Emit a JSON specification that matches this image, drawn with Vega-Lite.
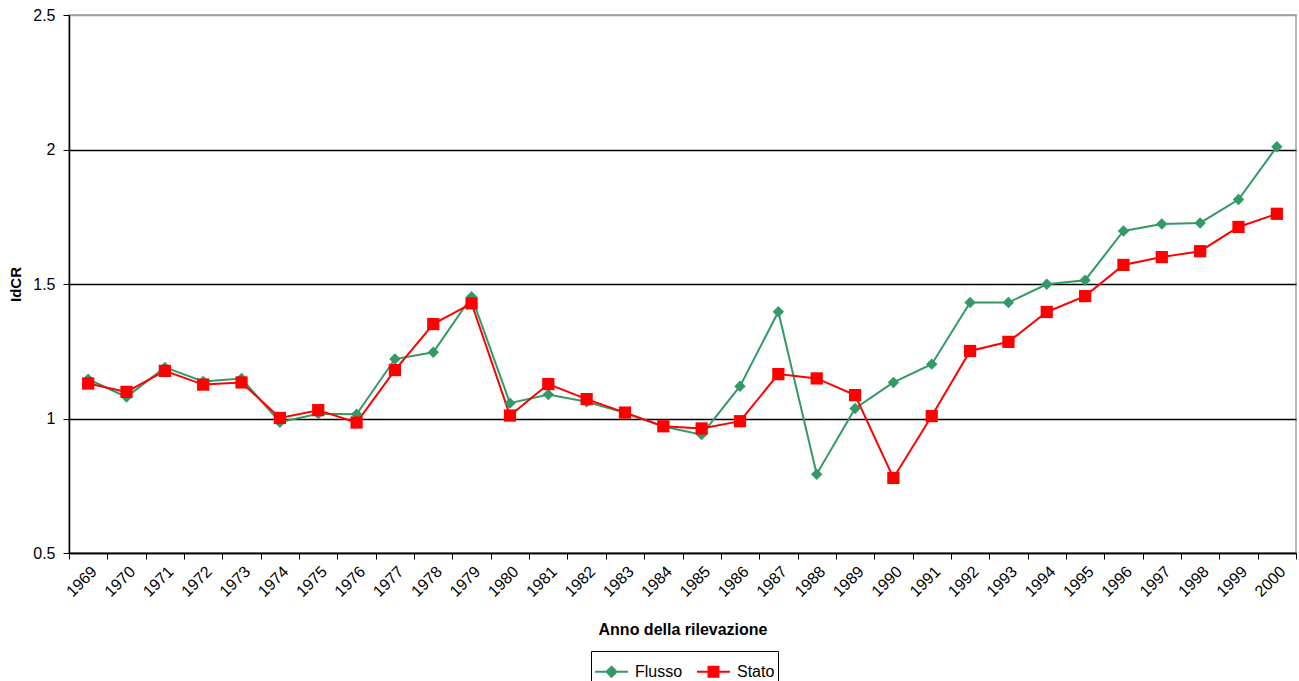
{
  "$schema": "https://vega.github.io/schema/vega-lite/v6.json",
  "width": 1227,
  "height": 538,
  "autosize": "none",
  "padding": {"left": 69, "top": 15, "right": 3, "bottom": 128},
  "background": "white",
  "config": {
    "font": "Liberation Sans",
    "view": {"stroke": "#a0a0a0", "strokeWidth": 1.5}
  },
  "data": {
    "values": [
      {"anno": "1969", "serie": "Flusso", "v": 1.146},
      {"anno": "1970", "serie": "Flusso", "v": 1.080},
      {"anno": "1971", "serie": "Flusso", "v": 1.190},
      {"anno": "1972", "serie": "Flusso", "v": 1.138},
      {"anno": "1973", "serie": "Flusso", "v": 1.149},
      {"anno": "1974", "serie": "Flusso", "v": 0.986},
      {"anno": "1975", "serie": "Flusso", "v": 1.018},
      {"anno": "1976", "serie": "Flusso", "v": 1.016},
      {"anno": "1977", "serie": "Flusso", "v": 1.221},
      {"anno": "1978", "serie": "Flusso", "v": 1.246},
      {"anno": "1979", "serie": "Flusso", "v": 1.453},
      {"anno": "1980", "serie": "Flusso", "v": 1.057},
      {"anno": "1981", "serie": "Flusso", "v": 1.089},
      {"anno": "1982", "serie": "Flusso", "v": 1.062},
      {"anno": "1983", "serie": "Flusso", "v": 1.021},
      {"anno": "1984", "serie": "Flusso", "v": 0.970},
      {"anno": "1985", "serie": "Flusso", "v": 0.940},
      {"anno": "1986", "serie": "Flusso", "v": 1.120},
      {"anno": "1987", "serie": "Flusso", "v": 1.397},
      {"anno": "1988", "serie": "Flusso", "v": 0.793},
      {"anno": "1989", "serie": "Flusso", "v": 1.037},
      {"anno": "1990", "serie": "Flusso", "v": 1.134},
      {"anno": "1991", "serie": "Flusso", "v": 1.202},
      {"anno": "1992", "serie": "Flusso", "v": 1.431},
      {"anno": "1993", "serie": "Flusso", "v": 1.431},
      {"anno": "1994", "serie": "Flusso", "v": 1.499},
      {"anno": "1995", "serie": "Flusso", "v": 1.514},
      {"anno": "1996", "serie": "Flusso", "v": 1.697},
      {"anno": "1997", "serie": "Flusso", "v": 1.723},
      {"anno": "1998", "serie": "Flusso", "v": 1.727},
      {"anno": "1999", "serie": "Flusso", "v": 1.814},
      {"anno": "2000", "serie": "Flusso", "v": 2.010},
      {"anno": "1969", "serie": "Stato", "v": 1.130},
      {"anno": "1970", "serie": "Stato", "v": 1.099},
      {"anno": "1971", "serie": "Stato", "v": 1.177},
      {"anno": "1972", "serie": "Stato", "v": 1.126},
      {"anno": "1973", "serie": "Stato", "v": 1.134},
      {"anno": "1974", "serie": "Stato", "v": 1.002},
      {"anno": "1975", "serie": "Stato", "v": 1.031},
      {"anno": "1976", "serie": "Stato", "v": 0.985},
      {"anno": "1977", "serie": "Stato", "v": 1.180},
      {"anno": "1978", "serie": "Stato", "v": 1.351},
      {"anno": "1979", "serie": "Stato", "v": 1.428},
      {"anno": "1980", "serie": "Stato", "v": 1.011},
      {"anno": "1981", "serie": "Stato", "v": 1.128},
      {"anno": "1982", "serie": "Stato", "v": 1.072},
      {"anno": "1983", "serie": "Stato", "v": 1.022},
      {"anno": "1984", "serie": "Stato", "v": 0.971},
      {"anno": "1985", "serie": "Stato", "v": 0.963},
      {"anno": "1986", "serie": "Stato", "v": 0.990},
      {"anno": "1987", "serie": "Stato", "v": 1.165},
      {"anno": "1988", "serie": "Stato", "v": 1.149},
      {"anno": "1989", "serie": "Stato", "v": 1.087},
      {"anno": "1990", "serie": "Stato", "v": 0.779},
      {"anno": "1991", "serie": "Stato", "v": 1.009},
      {"anno": "1992", "serie": "Stato", "v": 1.251},
      {"anno": "1993", "serie": "Stato", "v": 1.285},
      {"anno": "1994", "serie": "Stato", "v": 1.396},
      {"anno": "1995", "serie": "Stato", "v": 1.455},
      {"anno": "1996", "serie": "Stato", "v": 1.571},
      {"anno": "1997", "serie": "Stato", "v": 1.600},
      {"anno": "1998", "serie": "Stato", "v": 1.622},
      {"anno": "1999", "serie": "Stato", "v": 1.712},
      {"anno": "2000", "serie": "Stato", "v": 1.761}
    ]
  },
  "encoding": {
    "x": {
      "field": "anno",
      "type": "ordinal",
      "scale": {"type": "band", "paddingInner": 0, "paddingOuter": 0},
      "axis": {
        "title": "Anno della rilevazione",
        "titleFont": "Liberation Sans",
        "titleFontSize": 16,
        "titleFontWeight": "bold",
        "titleColor": "black",
        "titleY": 68,
        "titleBaseline": "top",
        "labelAngle": -45,
        "labelFontSize": 16,
        "labelColor": "black",
        "labelPadding": 4,
        "tickBand": "extent",
        "tickColor": "black",
        "tickSize": 6,
        "domainColor": "black",
        "domainWidth": 1.5,
        "grid": false
      }
    },
    "y": {
      "field": "v",
      "type": "quantitative",
      "scale": {"domain": [0.5, 2.5], "nice": false, "zero": false},
      "axis": {
        "title": "IdCR",
        "titleFontSize": 15,
        "titleFontWeight": "bold",
        "titleColor": "black",
        "titleX": -54,
        "titleY": 269,
        "titleAlign": "center",
        "titleBaseline": "middle",
        "values": [0.5, 1, 1.5, 2, 2.5],
        "labelExpr": "toString(datum.value)",
        "labelFontSize": 16,
        "labelColor": "black",
        "labelPadding": 8,
        "tickColor": "black",
        "tickSize": 6,
        "domainColor": "black",
        "domainWidth": 1.5,
        "grid": true,
        "gridColor": {"condition": {"test": "datum.value >= 2.5", "value": "#a0a0a0"}, "value": "black"},
        "gridWidth": 1.5,
        "gridOpacity": 1
      }
    },
    "color": {
      "field": "serie",
      "type": "nominal",
      "scale": {"domain": ["Flusso", "Stato"], "range": ["#339966", "#ff0000"]},
      "legend": {
        "title": null,
        "orient": "none",
        "legendX": 522,
        "legendY": 636,
        "direction": "horizontal",
        "strokeColor": "black",
        "padding": 3,
        "labelFontSize": 16,
        "labelColor": "black",
        "symbolSize": 1089,
        "symbolStrokeWidth": 2,
        "symbolOpacity": 1,
        "labelOffset": 6,
        "columnPadding": 10,
        "encode": {
          "symbols": {
            "update": {
              "shape": {"signal": "datum.value === 'Flusso' ? 'M-1,0L1,0M0,-0.3L0.3,0L0,0.3L-0.3,0Z' : 'M-1,0L1,0M-0.3,-0.3L0.3,-0.3L0.3,0.3L-0.3,0.3Z'"},
              "fill": {"signal": "datum.value === 'Flusso' ? '#339966' : '#ff0000'"},
              "stroke": {"signal": "datum.value === 'Flusso' ? '#339966' : '#ff0000'"}
            }
          }
        }
      }
    }
  },
  "layer": [
    {
      "mark": {"type": "line", "strokeWidth": 2}
    },
    {
      "transform": [{"filter": "datum.serie === 'Flusso'"}],
      "mark": {"type": "point", "shape": "diamond", "filled": true, "size": 130, "opacity": 1}
    },
    {
      "transform": [{"filter": "datum.serie === 'Stato'"}],
      "mark": {"type": "point", "shape": "square", "filled": true, "size": 150, "opacity": 1}
    }
  ]
}
